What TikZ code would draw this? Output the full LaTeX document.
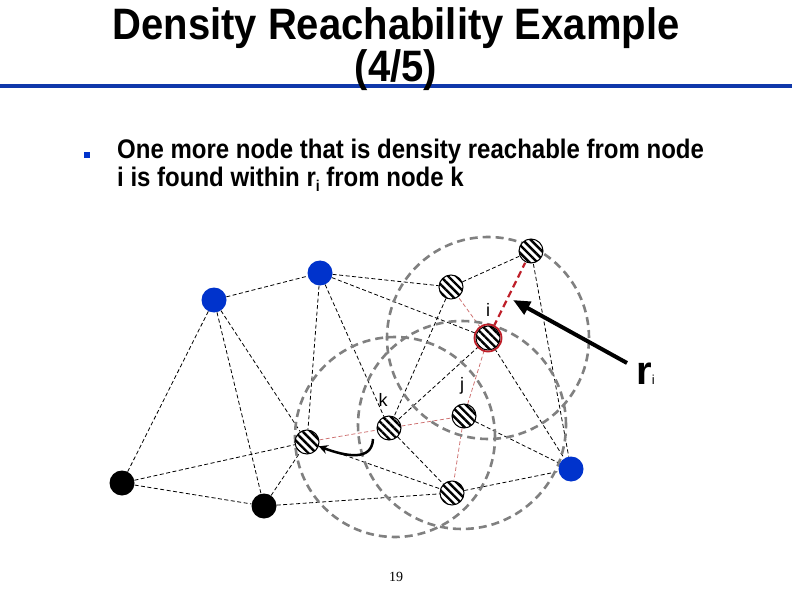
\documentclass[tikz,border=0pt]{standalone}
\usepackage{fontspec}
\setmainfont{Liberation Sans}
\newfontfamily\serifnum{Liberation Serif}
\usetikzlibrary{patterns.meta,arrows.meta,calc}
\pgfdeclarelayer{bg}
\pgfdeclarelayer{paper}
\pgfsetlayers{paper,bg,main}
\definecolor{nodeblue}{RGB}{0,51,204}
\definecolor{lineblue}{RGB}{16,56,170}
\definecolor{ringgray}{RGB}{128,128,128}
\definecolor{rred}{RGB}{190,30,40}
\definecolor{pinkedge}{RGB}{205,110,110}
\begin{document}
\begin{tikzpicture}[x=1pt,y=-1pt,
  bluenode/.style={circle,fill=nodeblue,minimum size=25pt,inner sep=0pt},
  blacknode/.style={circle,fill=black,minimum size=25pt,inner sep=0pt},
  hatchnode/.style={circle,draw=black,line width=1pt,preaction={fill=white},
    pattern={Lines[angle=-45,distance=5.6pt,line width=2.4pt]},minimum size=24pt,inner sep=0pt},
  edge/.style={black,line width=0.8pt,dash pattern=on 4pt off 2.5pt},
  redge/.style={pinkedge,line width=0.75pt,dash pattern=on 4pt off 2.5pt},
  rline/.style={rred,line width=2.2pt,dash pattern=on 7pt off 4pt},
  ring/.style={ringgray,line width=2.6pt,dash pattern=on 8pt off 5pt},
  lab/.style={font=\fontsize{18}{18}\selectfont},
  titlefont/.style={font=\fontsize{40}{34}\selectfont\bfseries},
  textfont/.style={font=\fontsize{24}{24}\selectfont\bfseries}
]
\useasboundingbox (0,0) rectangle (792,612);
\begin{pgfonlayer}{paper}
\fill[white] (0,0) rectangle (792,612);
\end{pgfonlayer}

% title
\fill[lineblue] (0,84) rectangle (792,88.5);
\node[titlefont,align=center,anchor=base,inner sep=0pt] (title) at (396,82)
  {\scalebox{1}[1.1]{Density Reachability Example}\\\scalebox{1}[1.1]{(4/5)}};

% bullet text
\node[fill=nodeblue,minimum size=6.5pt,inner sep=0pt] (bul) at (87,155) {};
\node[textfont,anchor=base west,inner sep=0pt] (l1) at (117,159) {\scalebox{1}[1.12]{One more node that is density reachable from node}};
\node[textfont,anchor=base west,inner sep=0pt] (l2) at (117,187) {\scalebox{1}[1.12]{i is found within r\raisebox{-4pt}{\fontsize{14}{14}\selectfont i} from node k}};

% nodes
\node[bluenode] (b1) at (214,300) {};
\node[bluenode] (b2) at (320,273) {};
\node[bluenode] (b3) at (571,469) {};
\node[blacknode] (k1) at (122,483) {};
\node[blacknode] (k2) at (264,506) {};
\node[hatchnode] (h1) at (531,251) {};
\node[hatchnode] (h2) at (451,287) {};
\node[hatchnode] (ni) at (488,338) {};
\node[hatchnode] (nj) at (464,416) {};
\node[hatchnode] (nk) at (389,428) {};
\node[hatchnode] (hl) at (307,442) {};
\node[hatchnode] (hb) at (452,493) {};
\draw[rred,line width=1.8pt] (ni.center) circle[radius=13.5pt];

\coordinate (ck) at (395,437);

\begin{pgfonlayer}{bg}
\foreach \a/\b in {b1/b2,b1/hl,b1/k2,b1/k1,b2/h2,b2/ni,b2/nk,b2/hl,k1/hl,k1/k2,k2/hl,k2/hb,hl/hb,h2/h1,h2/nk,h1/b3,ni/nk,ni/b3,nj/b3,hb/b3,nk/hb}
  \draw[edge] (\a) -- (\b);
\foreach \a/\b in {hl/nk,nk/nj,nj/ni,nj/hb,ni/h2}
  \draw[redge] (\a) -- (\b);
\draw[rline] (ni) -- (h1);
\draw[ring] (ni.center) circle[radius=101pt];
\draw[ring] ($(nj.center)+(-2,9)$) circle[radius=104pt];
\draw[ring] (ck) circle[radius=100pt];
\end{pgfonlayer}

% labels
\node[lab] (li) at (488,310) {i};
\node[lab] (lj) at (462,386) {j};
\node[lab] (lk) at (383,400) {k};
\node[anchor=base west,inner sep=0pt] (rlab) at (636,384) {\fontsize{40}{40}\selectfont\bfseries r\fontsize{13}{13}\selectfont\mdseries i};

% arrows
\coordinate (atail) at (627,363);
\coordinate (ahead) at (513,300);
\draw[-{Triangle[length=17pt,width=14pt]},line width=4pt] (atail) -- (ahead);
\coordinate (cstart) at (373,439);
\draw[-{Stealth[length=9pt,width=9pt]},line width=2.5pt] (cstart) .. controls (372,462) and (345,456) .. (hl);

% page number
\node[font=\serifnum\fontsize{14}{14}\selectfont] (pg) at (396,577) {19};
\end{tikzpicture}
\end{document}
